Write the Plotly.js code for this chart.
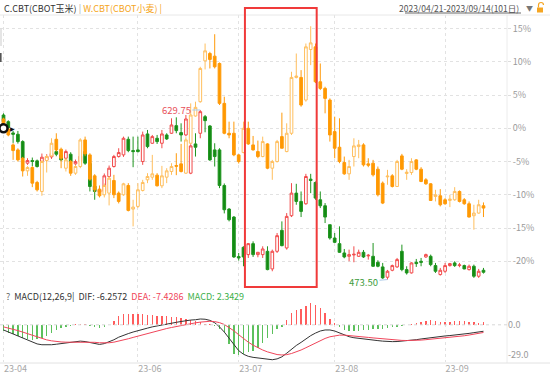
<!DOCTYPE html>
<html><head><meta charset="utf-8">
<script src="https://cdn.plot.ly/plotly-3.0.1.min.js"></script>
<style>html,body{margin:0;padding:0;background:#fff;}#chart{width:550px;height:375px;}</style>
</head><body><div id="chart"></div>
<script>
// ---- trading days (category axis) ----
const tradingDays = {
  '2023-04': [21,24,25,26,27,28],
  '2023-05': [1,2,3,4,5,8,9,10,11,12,15,16,17,18,19,22,23,24,25,26,30,31],
  '2023-06': [1,2,5,6,7,8,9,12,13,14,15,16,20,21,22,23,26,27,28,29,30],
  '2023-07': [3,5,6,7,10,11,12,13,14,17,18,19,20,21,24,25,26,27,28,31],
  '2023-08': [1,2,3,4,7,8,9,10,11,14,15,16,17,18,21,22,23,24,25,28,29,30,31],
  '2023-09': [1,5,6,7,8,11,12,13,14]
};
const tickDates  = ['2023-04-21','2023-06-01','2023-07-03','2023-08-01','2023-09-01'];
const tickLabels = ['23-04','23-06','23-07','23-08','23-09'];
const yTicks = [15,10,5,0,-5,-10,-15,-20];
const macdTicks = [0,-29];
const macdTickText = ['0.0','-29.0'];

// ---- C.CBT (corn), % change ----
const cornOpen = [2.0,1.0,-0.7,-0.9,-2.0,-5.25,-4.85,-4.9,-5.0,-4.75,
 -4.3,-3.5,-4.0,-4.5,-3.9,-5.35,-5.0,-3.5,-5.3,-8.7,
 -9.6,-9.5,-7.25,-5.75,-4.25,-4.0,-1.65,-3.35,-3.25,-5.0,
 -0.85,-2.25,-1.5,-2.25,-1.0,-0.75,0.4,-0.65,-1.0,-6.75,
 -2.35,-0.75,1.75,0.35,-3.25,-3.25,-8.6,-12.15,-13.35,-19.3,
 -17.9,-19.0,-17.35,-19.0,-19.0,-18.5,-21.15,-18.5,-15.35,-18.0,
 -13.15,-9.75,-11.0,-11.35,-7.65,-8.15,-10.75,-11.65,-14.5,-16.5,
 -17.35,-18.75,-19.25,-19.05,-19.25,-18.65,-19.2,-19.25,-20.15,-20.85,
 -22.4,-21.35,-20.85,-18.5,-21.25,-21.75,-20.15,-20.0,-19.35,-19.25,
 -20.65,-22.0,-21.5,-20.65,-20.25,-20.65,-20.65,-21.25,-20.75,-22.25,
 -21.35];
const cornHigh = [2.25,1.2,-0.4,-0.4,-1.8,-4.5,-4.4,-4.7,-3.8,-3.9,
 -3.6,-3.2,-3.7,-3.2,-3.6,-4.7,-3.9,-3.3,-5.0,-8.4,
 -9.0,-6.8,-5.6,-4.0,-3.0,-1.25,-1.25,-1.25,-1.25,-0.5,
 -0.25,-1.0,-1.0,-0.25,-0.75,1.5,1.65,0.75,2.0,-2.4,
 -0.75,2.75,2.0,0.5,-2.25,-3.0,-8.3,-12.0,-13.2,-18.75,
 -17.75,-17.25,-17.0,-18.6,-17.75,-17.75,-18.25,-15.75,-14.0,-12.75,
 -8.25,-8.35,-9.5,-6.85,-6.85,-8.0,-9.5,-11.25,-14.5,-15.75,
 -14.75,-18.15,-18.25,-17.75,-18.25,-18.3,-18.9,-17.25,-19.85,-20.25,
 -21.3,-20.5,-19.5,-17.5,-20.75,-20.15,-19.65,-19.5,-18.85,-19.0,
 -20.25,-21.0,-20.25,-20.25,-20.0,-20.25,-20.5,-20.5,-20.5,-21.15,
 -21.0];
const cornLow = [0.6,-0.4,-2.2,-2.3,-4.7,-5.5,-5.7,-5.9,-5.2,-5.0,
 -4.6,-4.2,-4.9,-4.7,-5.2,-5.5,-5.3,-5.5,-9.5,-10.75,
 -9.9,-9.8,-7.4,-5.9,-4.4,-4.3,-3.6,-5.85,-3.65,-5.5,
 -3.0,-2.35,-2.35,-3.0,-1.75,-0.85,-0.75,-2.0,-1.2,-6.9,
 -4.25,-1.5,-0.6,-4.9,-5.75,-9.0,-12.8,-14.0,-19.5,-19.9,
 -20.75,-19.5,-19.35,-19.4,-19.5,-21.35,-21.5,-18.75,-17.75,-18.25,
 -13.35,-11.5,-13.35,-11.5,-9.75,-10.75,-12.0,-14.25,-16.75,-17.25,
 -18.75,-19.55,-20.0,-20.15,-19.35,-19.5,-19.75,-20.85,-20.9,-22.65,
 -22.75,-21.5,-21.0,-21.5,-22.0,-21.85,-20.85,-20.75,-19.5,-20.75,
 -21.75,-22.15,-21.75,-20.8,-20.85,-20.9,-21.2,-21.4,-22.5,-22.5,
 -21.85];
const cornClose = [1.0,0.1,-0.9,-2.0,-4.5,-4.85,-4.98,-5.75,-4.35,-4.25,
 -3.8,-3.9,-4.75,-3.5,-5.0,-5.0,-4.2,-5.25,-8.75,-9.5,
 -9.3,-7.15,-6.0,-4.25,-3.65,-1.5,-3.35,-3.5,-3.5,-1.0,
 -2.75,-1.25,-2.0,-0.85,-1.6,0.5,-0.35,-1.0,1.4,-2.65,
 -2.85,2.5,1.15,-4.75,-4.25,-8.6,-12.25,-13.75,-19.35,-19.5,
 -19.35,-17.35,-19.0,-18.65,-18.15,-21.25,-18.5,-16.15,-17.65,-13.25,
 -9.75,-11.0,-12.5,-7.25,-7.85,-10.5,-11.65,-13.35,-16.5,-17.15,
 -18.65,-19.35,-19.0,-18.95,-18.65,-19.35,-19.1,-20.75,-20.75,-22.5,
 -21.5,-20.65,-19.75,-21.25,-21.75,-20.25,-20.35,-20.15,-19.0,-20.5,
 -21.5,-21.35,-20.65,-20.35,-20.65,-20.55,-21.15,-20.75,-22.25,-21.5,
 -21.65];

// ---- W.CBT (wheat), % change ----
const wheatOpen = [1.4,-0.15,-2.5,-3.25,-4.5,-6.4,-5.9,-8.15,-9.5,-4.85,
 -4.15,-1.65,-3.15,-6.0,-5.0,-6.75,-5.75,-1.75,-4.0,-7.15,
 -9.15,-10.0,-9.75,-7.85,-9.75,-10.0,-8.6,-12.15,-11.75,-9.35,
 -7.75,-7.35,-7.05,-8.65,-7.35,-6.5,-5.6,-5.35,-6.75,-2.25,
 1.85,4.0,10.15,11.25,10.85,9.75,3.75,-0.75,-0.75,-4.0,
 -3.65,0.0,-2.5,-3.5,-4.25,-2.35,-6.0,-5.0,-1.25,-3.5,
 -0.75,7.65,7.65,4.25,11.85,12.25,7.0,6.0,4.25,-0.5,
 -2.85,-5.15,-6.85,-4.25,-2.75,-2.5,-5.35,-5.25,-6.15,-8.25,
 -7.3,-7.15,-8.75,-4.15,-6.8,-6.65,-4.75,-6.15,-7.75,-8.35,
 -10.25,-10.15,-10.75,-10.85,-10.75,-9.5,-10.75,-11.35,-13.15,-12.75,
 -11.65];
const wheatHigh = [1.6,0.0,-2.25,-3.0,-4.3,-5.7,-5.7,-7.9,-4.8,-4.0,
 -1.5,-0.75,-2.9,-4.5,-4.75,-5.5,-1.5,-1.25,-3.75,-6.9,
 -8.6,-8.3,-7.2,-7.0,-9.5,-8.2,-8.25,-10.75,-8.25,-7.75,
 -6.75,-4.0,-6.75,-5.65,-6.0,-5.25,-3.75,-2.35,-1.35,3.75,
 4.0,9.25,12.75,11.5,14.15,9.9,4.75,1.0,1.0,-3.9,
 1.0,1.0,-1.15,-1.85,-1.25,-2.25,-4.75,-1.75,2.35,0.75,
 8.5,11.25,8.75,12.75,15.35,12.75,9.75,6.25,4.5,1.75,
 1.5,-4.25,-4.75,-1.5,-1.75,-2.25,-4.5,-4.75,-5.75,-8.0,
 -6.25,-6.9,-4.75,-3.85,-6.15,-4.5,-4.65,-5.85,-7.5,-8.25,
 -9.25,-9.15,-10.5,-10.0,-8.85,-9.35,-10.5,-11.0,-11.5,-10.75,
 -11.15];
const wheatLow = [-0.3,-1.2,-4.75,-5.0,-7.25,-7.15,-8.85,-9.5,-10.15,-6.65,
 -4.3,-3.5,-6.0,-6.5,-7.15,-7.0,-6.0,-4.2,-7.9,-9.6,
 -10.4,-10.4,-11.6,-10.5,-11.3,-10.15,-12.5,-14.75,-12.0,-9.5,
 -8.25,-7.75,-8.75,-9.0,-8.25,-7.0,-7.05,-6.65,-6.85,-2.35,
 1.75,3.85,8.85,9.0,9.0,3.5,-0.9,-1.5,-4.2,-5.3,
 -3.75,-2.5,-3.35,-4.5,-4.35,-6.15,-7.75,-5.15,-3.0,-3.6,
 -1.0,7.5,3.25,4.0,9.5,6.8,5.75,2.25,-2.0,-4.5,
 -5.25,-7.0,-7.75,-5.75,-4.5,-5.75,-5.85,-7.25,-10.25,-11.4,
 -8.5,-8.9,-8.8,-6.3,-7.75,-7.0,-6.3,-8.1,-8.5,-10.9,
 -11.0,-11.75,-11.5,-11.85,-10.9,-11.15,-11.5,-13.4,-15.25,-12.85,
 -13.35];
const wheatClose = [0.0,-1.0,-3.35,-4.75,-6.4,-5.9,-8.25,-9.25,-5.0,-4.25,
 -2.25,-3.25,-4.5,-4.75,-6.75,-5.75,-1.75,-3.85,-7.65,-9.25,
 -10.15,-8.6,-7.5,-10.0,-11.0,-8.35,-12.35,-11.85,-9.25,-8.15,
 -7.25,-6.85,-8.65,-7.15,-6.4,-5.75,-5.7,-6.5,-1.75,2.0,
 3.15,9.0,11.65,10.35,9.25,3.75,-0.75,-1.0,-4.0,-5.0,
 0.0,-2.35,-3.25,-4.25,-2.0,-6.0,-5.0,-2.0,-3.0,-0.75,
 7.65,7.85,3.5,12.25,12.85,7.0,6.0,4.5,-1.0,-3.0,
 -5.0,-6.85,-5.75,-2.65,-2.5,-5.5,-5.55,-7.0,-10.0,-11.25,
 -7.2,-8.75,-5.0,-6.15,-6.6,-5.0,-6.15,-8.0,-8.35,-10.85,
 -10.0,-11.5,-11.35,-10.65,-9.5,-11.0,-11.35,-13.35,-12.75,-11.5,
 -12.0];

// ---- MACD(12,26,9) ----
const macdHist = [-6,-7.5,-9,-11,-12.5,-13.5,-14.5,-14,-13,-10.5,
 -8,-5.5,-3.5,-2,-1,0.3,1.0,0.5,-1.0,-2.5,
 -3.5,-2.5,-0.5,3.7,8.3,10.3,10.5,10.5,10.5,10.3,
 9.7,9.3,9.0,8.3,8.3,7.7,7.7,7.0,6.0,4.3,
 3.7,2.7,1.0,0.3,-1.0,-4.0,-7.3,-18.3,-28.3,-29.7,
 -28.3,-26.3,-25.0,-22.3,-17.3,-13.0,-9.0,-4.0,-1.7,5.0,
 11.0,14.3,15.0,18.3,21.0,19.3,16.0,11.0,6.0,1.7,
 -2.3,-5.0,-6.0,-6.3,-5.7,-5.0,-5.0,-4.0,-4.0,-4.0,
 -3.0,-2.3,-1.7,-0.7,0.2,0.8,1.7,2.7,3.7,4.3,
 3.7,2.7,2.7,2.7,3.3,3.7,3.7,2.7,2.3,2.0,
 2.3429];
const macdDif = [-5,-7,-9,-11,-13,-15,-17,-18.5,-19.3,-19.5,
 -19.3,-18.8,-18.2,-17.6,-17.0,-16.3,-15.8,-16.2,-17.2,-18.5,
 -19.0,-18.2,-16.5,-14.5,-12.0,-10.0,-8.5,-7.0,-5.5,-4.3,
 -3.2,-2.0,-1.0,0.0,0.8,1.6,2.4,3.2,4.2,4.6,
 4.9,5.6,5.4,4.3,2.0,-2.0,-7.0,-13.0,-19.5,-25.0,
 -28.5,-30.5,-31.5,-32.2,-33.0,-33.5,-33.8,-33.0,-31.0,-27.5,
 -23.5,-20.0,-17.0,-13.5,-10.5,-8.0,-6.0,-5.0,-5.0,-6.0,
 -8.0,-10.0,-11.5,-12.5,-13.2,-13.8,-14.3,-14.8,-15.3,-15.8,
 -16.2,-16.3,-16.2,-15.9,-15.5,-15.0,-14.4,-13.7,-13.0,-12.3,
 -11.7,-11.2,-10.8,-10.4,-10.0,-9.5,-9.0,-8.3,-7.6,-6.9,
 -6.2572];
const macdDea = [-2,-3.0,-4.2,-5.6,-7.05,-8.65,-10.3,-11.95,-13.4,-14.6,
 -15.5,-16.2,-16.6,-16.8,-16.85,-16.7,-16.5,-16.4,-16.6,-16.95,
 -17.4,-17.6,-17.4,-16.8,-15.9,-14.7,-13.5,-12.2,-10.9,-9.6,
 -8.3,-7.1,-5.9,-4.7,-3.6,-2.6,-1.6,-0.6,0.4,1.2,
 1.9,2.6,3.2,3.4,3.1,2.1,0.3,-2.4,-5.8,-9.6,
 -13.4,-16.8,-19.7,-22.2,-24.4,-26.2,-27.7,-28.8,-29.2,-28.9,
 -27.8,-26.2,-24.4,-22.2,-19.9,-17.5,-15.2,-13.2,-11.6,-10.5,
 -10.0,-10.0,-10.3,-10.7,-11.2,-11.7,-12.2,-12.7,-13.2,-13.7,
 -14.2,-14.6,-14.9,-15.1,-15.2,-15.2,-15.0,-14.8,-14.4,-14.0,
 -13.5,-13.0,-12.6,-12.1,-11.7,-11.2,-10.6,-9.9,-9.1,-8.3,
 -7.4286];

const cornHighLabel = '629.75';
const cornLowLabel  = '473.50';
const dateRangeText = '2023/04/21-2023/09/14(101日)';

// ---- build ----
const dates = [];
Object.keys(tradingDays).forEach(m => tradingDays[m].forEach(d => dates.push(m + '-' + String(d).padStart(2,'0'))));

const W = 550, H = 375;
const px = v => v / W;
const py = v => 1 - v / H;
const FONT = '"Noto Sans CJK SC", "Noto Sans", sans-serif';
const XR = [-0.73, 104.9];

const corn = {
  type: 'candlestick', x: dates, open: cornOpen, high: cornHigh, low: cornLow, close: cornClose,
  xaxis: 'x', yaxis: 'y', whiskerwidth: 0, hoverinfo: 'skip',
  increasing: {line: {color: '#f24a4a', width: 1}, fillcolor: '#ffffff'},
  decreasing: {line: {color: '#1f951f', width: 1}, fillcolor: '#138a13'}
};
const wheat = {
  type: 'candlestick', x: dates, open: wheatOpen, high: wheatHigh, low: wheatLow, close: wheatClose,
  xaxis: 'x', yaxis: 'y', whiskerwidth: 0, hoverinfo: 'skip',
  increasing: {line: {color: '#ffbf5e', width: 1}, fillcolor: '#ffffff'},
  decreasing: {line: {color: '#ff9a0a', width: 1}, fillcolor: '#ff9900'}
};
const startMark = {
  type: 'scatter', mode: 'markers', x: [dates[0]], y: [0], xaxis: 'x', yaxis: 'y', hoverinfo: 'skip',
  marker: {symbol: 'circle', size: 8, color: '#ffffff', line: {color: '#111', width: 2.5}}
};
const hist = {
  type: 'bar', x: dates, y: macdHist, xaxis: 'x2', yaxis: 'y2', width: 0.32, hoverinfo: 'skip',
  marker: {color: macdHist.map(v => v >= 0 ? '#ff5c5c' : '#5cc05c'), line: {width: 0}}
};
const difLine = {type: 'scatter', mode: 'lines', x: dates, y: macdDif, xaxis: 'x2', yaxis: 'y2',
  line: {color: '#333', width: 1}, hoverinfo: 'skip'};
const deaLine = {type: 'scatter', mode: 'lines', x: dates, y: macdDea, xaxis: 'x2', yaxis: 'y2',
  line: {color: '#f0455a', width: 1}, hoverinfo: 'skip'};

const hiIdx = cornHigh.indexOf(Math.max(...cornHigh));
const loIdx = cornLow.indexOf(Math.min(...cornLow));

const gridCol = '#e2e2e2';
const layout = {
  width: W, height: H, margin: {l: 0, r: 0, t: 0, b: 0},
  paper_bgcolor: '#fff', plot_bgcolor: '#fff', showlegend: false,
  boxmode: 'overlay', boxgap: 0.2, bargap: 0,
  font: {family: FONT, size: 9, color: '#999'},
  xaxis: {type: 'category', domain: [0, px(507)], range: XR, anchor: 'y',
    rangeslider: {visible: false}, showticklabels: false, tickvals: tickDates,
    showgrid: true, gridcolor: gridCol, griddash: 'dot', gridwidth: 1, zeroline: false, showline: false, ticks: ''},
  yaxis: {domain: [py(288), py(15)], range: [-24.02, 17.04], side: 'right', anchor: 'x',
    tickvals: yTicks, ticktext: yTicks.map(v => v + '%'),
    showgrid: true, gridcolor: gridCol, griddash: 'dot', gridwidth: 1, zeroline: false, showline: false,
    ticks: 'outside', ticklen: 3, tickcolor: '#ddd', tickfont: {size: 9, color: '#9a9a9a'}},
  xaxis2: {type: 'category', domain: [0, px(507)], range: XR, anchor: 'y2',
    tickvals: tickDates, ticktext: tickLabels, ticklabelshift: 12,
    showgrid: true, gridcolor: gridCol, griddash: 'dot', gridwidth: 1, zeroline: false, showline: false, ticks: '',
    tickfont: {size: 9, color: '#a8a8a8'}},
  yaxis2: {domain: [py(362), py(300)], range: [-36, 24], side: 'right', anchor: 'x2',
    tickvals: macdTicks, ticktext: macdTickText, showgrid: false, zeroline: false, showline: false,
    ticks: '', tickfont: {size: 9, color: '#9a9a9a'}},
  shapes: [
    {type: 'line', xref: 'paper', yref: 'paper', x0: 0, x1: 1, y0: py(15), y1: py(15), line: {color: '#e8e8e8', width: 1}},
    {type: 'line', xref: 'paper', yref: 'paper', x0: px(507), x1: px(507), y0: py(15), y1: py(363), line: {color: '#ececec', width: 1}},
    {type: 'line', xref: 'paper', yref: 'paper', x0: 0, x1: 1, y0: py(363), y1: py(363), line: {color: '#e2e2e2', width: 1}},
    {type: 'line', xref: 'paper', yref: 'y2', x0: 0, x1: px(507), y0: 0, y1: 0, line: {color: '#d8d8d8', width: 1, dash: 'dot'}},
    {type: 'rect', xref: 'x', yref: 'paper', x0: 50.3, x1: 65.25, y0: py(287), y1: py(8), line: {color: '#f03a3a', width: 2}},
    {type: 'line', xref: 'paper', yref: 'paper', x0: px(405), x1: px(521), y0: py(13), y1: py(13), line: {color: '#666', width: 1}},
    {type: 'rect', xref: 'paper', yref: 'paper', x0: px(537), x1: px(543), y0: py(12.5), y1: py(7.5), fillcolor: '#f5a623', line: {width: 0}},
    {type: 'path', xref: 'paper', yref: 'paper', path: 'M ' + px(538.5) + ' ' + py(7.5) + ' L ' + px(538.5) + ' ' + py(5) + ' Q ' + px(538.5) + ' ' + py(2.5) + ' ' + px(541) + ' ' + py(2.5) + ' Q ' + px(543.5) + ' ' + py(2.5) + ' ' + px(543.5) + ' ' + py(5), line: {color: '#f5a623', width: 1.2}},
    {type: 'line', xref: 'paper', yref: 'paper', x0: px(1), x1: px(1), y0: py(28), y1: py(46), line: {color: '#dddddd', width: 1.5}},
    {type: 'rect', xref: 'paper', yref: 'paper', x0: 0, x1: px(1.6), y0: py(62), y1: py(53), fillcolor: '#555', line: {width: 0}}
  ],
  annotations: [
    {xref: 'paper', yref: 'paper', x: px(2), y: py(8.5), xanchor: 'left', yanchor: 'middle', showarrow: false,
     font: {family: FONT, size: 9, color: '#333'},
     text: '<span style="color:#333">C.CBT(CBOT玉米)</span> <span style="color:#aaa">|</span> <span style="color:#f5a623">W.CBT(CBOT小麦)</span> <span style="color:#f5a623">|</span>'},
    {xref: 'paper', yref: 'paper', x: px(521), y: py(8), xanchor: 'right', yanchor: 'middle', showarrow: false,
     font: {family: FONT, size: 8.5, color: '#555'}, text: dateRangeText},
    {xref: 'paper', yref: 'paper', x: px(529), y: py(8), xanchor: 'center', yanchor: 'middle', showarrow: false,
     font: {family: FONT, size: 7, color: '#777'}, text: '▼'},
    {xref: 'paper', yref: 'paper', x: px(4), y: py(296), xanchor: 'left', yanchor: 'middle', showarrow: false,
     font: {family: FONT, size: 9, color: '#333'},
     text: '<span style="color:#666">?</span>  MACD(12,26,9|  DIF: ' + macdDif[100].toFixed(4) +
       '  <span style="color:#f0455a">DEA: ' + macdDea[100].toFixed(4) + '</span>' +
       '  <span style="color:#3cb04a">MACD: ' + macdHist[100].toFixed(4) + '</span>'},
    {xref: 'x', yref: 'y', x: dates[hiIdx], y: cornHigh[hiIdx], text: cornHighLabel, showarrow: true,
     arrowhead: 0, arrowwidth: 1, arrowcolor: '#a9c9e8', ax: -24, ay: 0, standoff: 0,
     font: {family: FONT, size: 9.5, color: '#e8505b'}},
    {xref: 'x', yref: 'y', x: dates[loIdx], y: cornLow[loIdx], text: cornLowLabel, showarrow: true,
     arrowhead: 0, arrowwidth: 1, arrowcolor: '#a9c9e8', ax: -24, ay: 2, standoff: 0,
     font: {family: FONT, size: 9.5, color: '#3d9b3d'}},
    {xref: 'x', yref: 'y', x: dates[0], y: 0, xshift: 9, text: '▶', showarrow: false,
     font: {family: 'DejaVu Sans', size: 6, color: '#111'}}
  ]
};

Plotly.newPlot('chart', [corn, wheat, startMark, hist, difLine, deaLine], layout, {staticPlot: true, displayModeBar: false});
</script></body></html>
